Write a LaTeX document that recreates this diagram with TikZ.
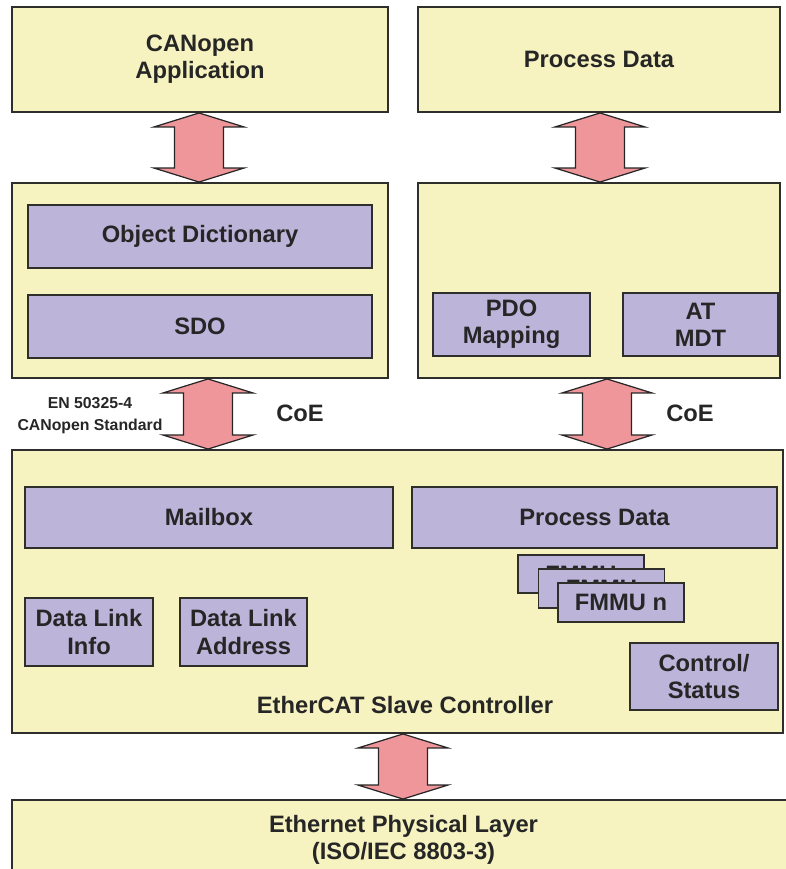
\documentclass[tikz,border=0pt]{standalone}
\usepackage{fontspec}
\setmainfont{Liberation Sans}
\usetikzlibrary{calc}

\definecolor{boxyellow}{HTML}{F7F3C0}
\definecolor{boxpurple}{HTML}{BCB4D9}
\definecolor{arrowpink}{HTML}{EF969B}
\definecolor{edge}{HTML}{2E2E2A}

% up/down arrow between two boxes: upper node, lower node, x position
\newcommand{\updown}[3]{%
  \path (#3,0 |- #1.south) coordinate (at) (#3,0 |- #2.north) coordinate (ab);
  \draw[dblarrow] (at) -- ([shift={(0.9,-0.28)}]at) -- ([shift={(0.49,-0.28)}]at)
    -- ([shift={(0.49,0.28)}]ab) -- ([shift={(0.9,0.28)}]ab) -- (ab)
    -- ([shift={(-0.9,0.28)}]ab) -- ([shift={(-0.49,0.28)}]ab)
    -- ([shift={(-0.49,-0.28)}]at) -- ([shift={(-0.9,-0.28)}]at) -- cycle;
}

\begin{document}
\begin{tikzpicture}[
    font=\bfseries\fontsize{13.5}{15.5}\selectfont, text=black!85,
    layer/.style={draw=edge, line width=1.1pt, fill=boxyellow, inner sep=0pt, align=center},
    block/.style={draw=edge, line width=0.9pt, fill=boxpurple, inner sep=0pt, align=center},
    dblarrow/.style={draw=black!85, line width=0.7pt, fill=arrowpink, line join=miter}
  ]
\useasboundingbox (0,0) rectangle (15.7,-17.38);

% top row
\node[layer, minimum width=7.52cm, minimum height=2.1cm] (canapp) at (4.0,-1.19) {CANopen\\Application};
\node[layer, minimum width=7.24cm, minimum height=2.1cm] (pdtop) at (11.98,-1.19) {Process Data};

% CoE layer
\node[layer, minimum width=7.52cm, minimum height=3.9cm] (coleft) at (4.0,-5.61) {};
\node[layer, minimum width=7.24cm, minimum height=3.9cm] (coright) at (11.98,-5.61) {};
\node[block, minimum width=6.88cm, minimum height=1.26cm] (objdict) at (4.0,-4.73) {Object Dictionary};
\node[block, minimum width=6.88cm, minimum height=1.26cm] (sdo) at (4.0,-6.53) {SDO};
\node[block, minimum width=3.14cm, minimum height=1.26cm] (pdomap) at (10.23,-6.49) {PDO\\Mapping};
\node[block, minimum width=3.1cm, minimum height=1.26cm] (atmdt) at (14.01,-6.49) {AT\\MDT};

% slave controller
\node[layer, minimum width=15.42cm, minimum height=5.66cm] (esc) at (7.95,-11.83) {};
\node[block, minimum width=7.36cm, minimum height=1.22cm] (mailbox) at (4.18,-10.35) {Mailbox};
\node[block, minimum width=7.3cm, minimum height=1.22cm] (pdesc) at (11.89,-10.35) {Process Data};
\node[block, minimum width=2.52cm, minimum height=0.77cm] (fmmua) at (11.62,-11.48) {FMMU};
\node[block, minimum width=2.52cm, minimum height=0.77cm] (fmmub) at (12.03,-11.77) {FMMU};
\node[block, minimum width=2.52cm, minimum height=0.77cm] (fmmun) at (12.42,-12.05) {FMMU n};
\node[block, minimum width=2.56cm, minimum height=1.36cm] (dlinfo) at (1.78,-12.64) {Data Link\\Info};
\node[block, minimum width=2.54cm, minimum height=1.36cm] (dladdr) at (4.87,-12.64) {Data Link\\Address};
\node[block, minimum width=2.96cm, minimum height=1.34cm] (ctrl) at (14.08,-13.53) {Control/\\Status};
\node (esclabel) at (8.1,-14.1) {EtherCAT Slave Controller};

% physical layer
\node[layer, minimum width=15.66cm, minimum height=1.6cm] (phys) at (8.07,-16.8) {Ethernet Physical Layer\\(ISO/IEC 8803-3)};

% arrows
\updown{canapp}{coleft}{3.98}
\updown{pdtop}{coright}{12.0}
\updown{coleft}{esc}{4.16}
\updown{coright}{esc}{12.14}
\updown{esc}{phys}{8.06}

\node (coeleft) at (6.0,-8.26) {CoE};
\node (coeright) at (13.8,-8.26) {CoE};
\node[font=\bfseries\fontsize{9}{12.5}\selectfont, align=center] (standard) at (1.8,-8.32) {EN 50325-4\\CANopen Standard};
\end{tikzpicture}
\end{document}
